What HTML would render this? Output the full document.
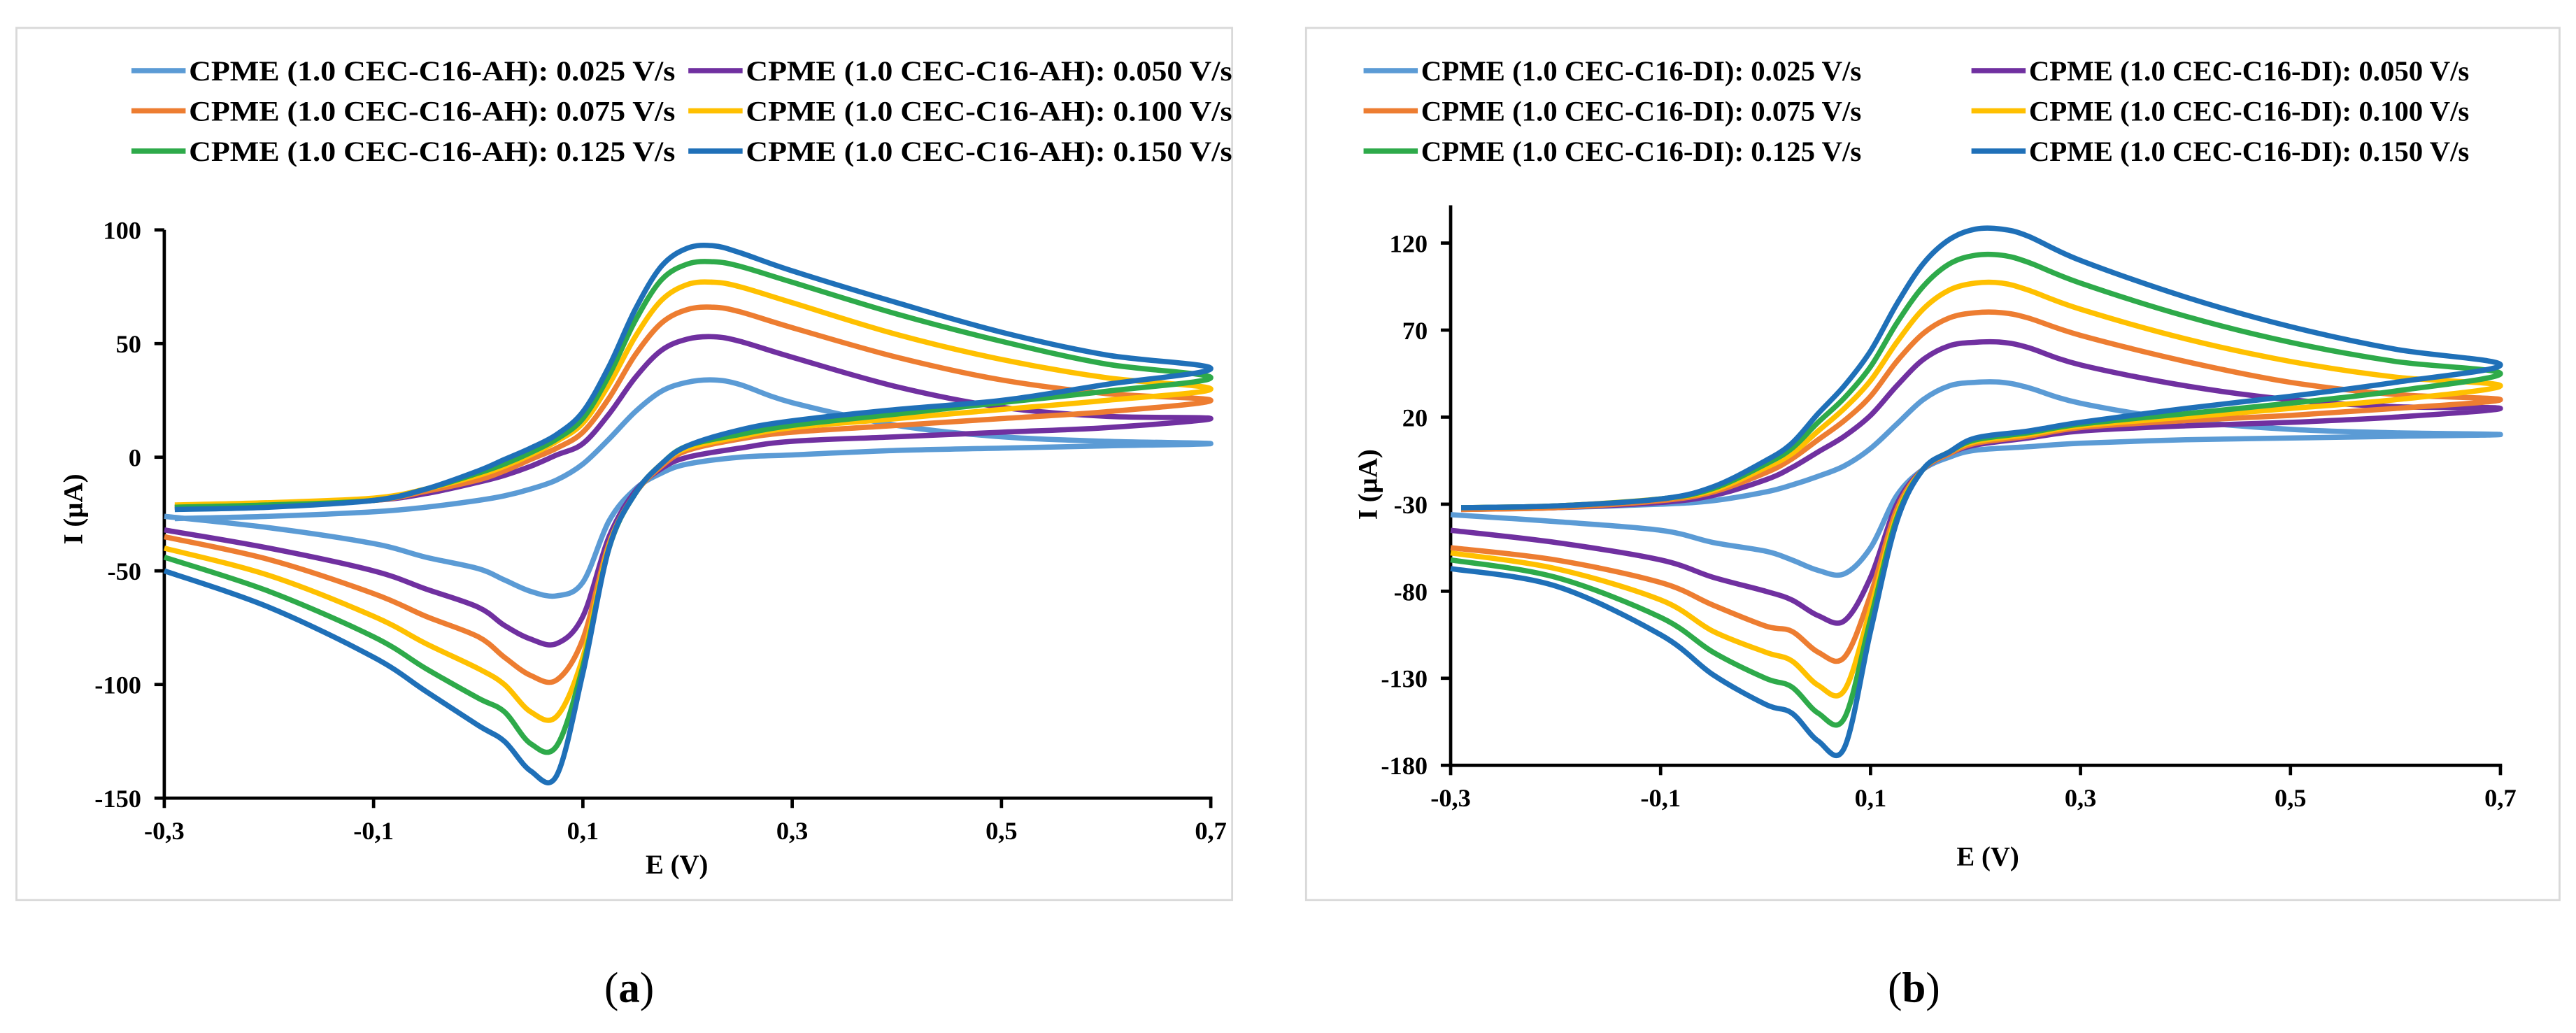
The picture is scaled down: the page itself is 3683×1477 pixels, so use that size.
<!DOCTYPE html>
<html><head><meta charset="utf-8"><style>
html,body{margin:0;padding:0;background:#fff}
svg{display:block}
text{font-family:"Liberation Serif",serif;font-weight:bold;fill:#000}
</style></head><body>
<svg id="fig" width="3683" height="1477" viewBox="0 0 1568 629" preserveAspectRatio="none" xmlns="http://www.w3.org/2000/svg">
<rect x="10" y="17" width="740" height="531" fill="#fff" stroke="#d9d9d9" stroke-width="1.2"/>
<rect x="795" y="17" width="763" height="531" fill="#fff" stroke="#d9d9d9" stroke-width="1.2"/>
<text x="383" y="610" font-size="26" text-anchor="middle" style="font-weight:normal">(<tspan font-weight="bold">a</tspan>)</text>
<text x="1165" y="610" font-size="26" text-anchor="middle" style="font-weight:normal">(<tspan font-weight="bold">b</tspan>)</text>
</svg>
<script>
const colors=["#5b9bd5","#7030a0","#ed7d31","#ffc000","#2eaa4a","#1f70b8"];
const rates=["0.025","0.050","0.075","0.100","0.125","0.150"];
const eFwd=[-0.29,-0.2,-0.1,-0.05,0,0.025,0.05,0.075,0.1,0.125,0.15,0.175,0.2,0.225,0.25,0.3,0.4,0.5,0.6,0.7];
const eRev=[0.7,0.6,0.5,0.4,0.3,0.25,0.2,0.175,0.15,0.125,0.1,0.075,0.05,0.025,0,-0.05,-0.1,-0.2,-0.3];
const xTicks=[-0.3,-0.1,0.1,0.3,0.5,0.7];
const yTicksA=[100,50,0,-50,-100,-150];
const yTicksB=[120,70,20,-30,-80,-130,-180];
const fwdA=[
[-27,-26,-24,-22,-19,-17,-14,-10,-3,8,20,29,33,34,32,24,14,9,7,6],
[-22,-21,-19,-16,-11,-8,-4,1,6,19,35,47,52,53,51,44,31,22,18,17],
[-22,-21,-19,-15,-10,-6,-1,4,11,26,45,59,65,66,64,57,44,34,28,25],
[-21,-20,-18,-14,-8,-4,1,7,15,32,53,69,76,77,75,68,54,43,35,30],
[-22,-21,-19,-14,-7,-3,2,8,17,36,60,78,85,86,84,77,63,51,41,35],
[-23,-22,-19,-14,-6,-1,4,10,20,40,65,84,92,93,90,82,68,55,45,39]];
const revA=[
[6,5,4,3,1,0,-3,-7,-14,-28,-55,-61,-59,-54,-49,-44,-38,-31,-26],
[17,13,11,9,7,4,0,-5,-15,-35,-70,-82,-80,-74,-66,-58,-50,-40,-32],
[25,20,17,14,11,8,3,-4,-16,-38,-80,-98,-96,-88,-79,-70,-60,-45,-35],
[30,25,21,17,13,9,4,-3,-16,-39,-88,-114,-112,-100,-93,-82,-70,-52,-40],
[35,29,24,19,14,10,5,-3,-16,-40,-92,-127,-126,-112,-106,-93,-79,-59,-44],
[39,32,25,21,16,12,5,-3,-16,-40,-95,-140,-138,-125,-118,-103,-88,-66,-50]];
const fwdB=[
[-33,-32,-30,-28,-23,-19,-14,-8,2,16,30,38,40,40,37,28,18,13,11,10],
[-33,-32,-29,-25,-16,-9,0,9,21,38,53,61,63,63,60,50,38,30,26,25],
[-33,-32,-28,-23,-12,-4,7,18,32,52,68,77,80,80,77,67,52,40,33,30],
[-32,-31,-27,-22,-9,-1,12,25,41,63,82,93,97,97,93,82,65,52,43,38],
[-32,-31,-27,-21,-7,2,17,31,49,74,95,108,113,113,109,97,78,63,52,45],
[-32,-31,-27,-20,-5,5,22,38,58,85,108,122,128,128,124,110,89,72,59,50]];
const revB=[
[10,9,8,7,5,3,1,-3,-10,-25,-55,-70,-68,-62,-57,-52,-45,-40,-36],
[25,20,17,15,12,8,4,-1,-10,-30,-72,-97,-94,-85,-80,-72,-62,-52,-45],
[30,25,21,18,14,9,5,-1,-10,-33,-82,-118,-115,-103,-100,-88,-75,-62,-55],
[38,30,25,20,15,10,6,0,-10,-36,-90,-137,-134,-120,-115,-103,-85,-67,-58],
[45,35,28,22,16,11,7,0,-10,-38,-96,-153,-150,-135,-130,-115,-95,-72,-62],
[50,40,32,25,17,12,8,0,-10,-40,-103,-170,-166,-150,-145,-128,-105,-77,-67]];

const svg=document.getElementById('fig');
const NS="http://www.w3.org/2000/svg";
function mk(tag,attrs,parent){const e=document.createElementNS(NS,tag);for(const k in attrs)e.setAttribute(k,attrs[k]);(parent||svg).appendChild(e);return e;}
function smooth(pts){let d="M"+pts[0][0].toFixed(2)+","+pts[0][1].toFixed(2);
 for(let i=0;i<pts.length-1;i++){const p0=pts[Math.max(0,i-1)],p1=pts[i],p2=pts[i+1],p3=pts[Math.min(pts.length-1,i+2)];
 const c1=[p1[0]+(p2[0]-p0[0])/6,p1[1]+(p2[1]-p0[1])/6],c2=[p2[0]-(p3[0]-p1[0])/6,p2[1]-(p3[1]-p1[1])/6];
 d+=" C"+c1.join(",")+" "+c2.join(",")+" "+p2.join(",");}return d;}

function panel(cfg){
 const g=mk('g',{});
 
 
 const X=v=>cfg.x0+(v-(-0.3))/(1.0)*(cfg.x1-cfg.x0);
 const Y=v=>cfg.yb+(v-cfg.ymin)/(cfg.ymax-cfg.ymin)*(cfg.yt-cfg.yb);
 for(let i=0;i<6;i++){
  const col=i%2,row=Math.floor(i/2);
  const lx=cfg.legX[col],ly=cfg.legY+row*24.5;
  const le=mk('g',{},g);
  
  
  mk('line',{x1:lx,y1:ly,x2:lx+33,y2:ly,stroke:colors[i],'stroke-width':3.2},le);
  const t=mk('text',{x:lx+35,y:ly+6,'font-size':17,textLength:cfg.legW,lengthAdjust:'spacingAndGlyphs'},le);
  t.textContent="CPME (1.0 "+cfg.label+"): "+rates[i]+" V/s";
 }
 const ya=mk('line',{x1:cfg.x0,y1:cfg.ytop,x2:cfg.x0,y2:cfg.yb,stroke:'#000','stroke-width':2},g);
 
 const xa=mk('line',{x1:cfg.x0-1,y1:cfg.yb,x2:cfg.x1+1,y2:cfg.yb,stroke:'#000','stroke-width':2},g);
 
 cfg.yTicks.forEach(v=>{const y=Y(v);
  mk('line',{x1:cfg.x0-6,y1:y,x2:cfg.x0,y2:y,stroke:'#000','stroke-width':2},g);
  const t=mk('text',{x:cfg.x0-14,y:y+5.5,'font-size':15.5,'text-anchor':'end'},g);
  
  t.textContent=String(v);});
 xTicks.forEach(v=>{const x=X(v);
  mk('line',{x1:x,y1:cfg.yb,x2:x,y2:cfg.yb+6,stroke:'#000','stroke-width':2},g);
  const t=mk('text',{x:x,y:cfg.yb+25,'font-size':15.5,'text-anchor':'middle'},g);
  
  t.textContent=v.toFixed(1).replace('.',',');});
 const xt=mk('text',{x:cfg.xTitle[0],y:cfg.xTitle[1],'font-size':16.5,'text-anchor':'middle'},g);
 xt.textContent="E (V)";
 const yt=mk('text',{x:0,y:0,'font-size':16.5,'text-anchor':'middle',transform:`translate(${cfg.yTitle[0]},${cfg.yTitle[1]}) rotate(-90)`},g);
 yt.textContent="I (µA)";
 for(let i=0;i<6;i++){
  const pts=eFwd.map((e,j)=>[X(e),Y(cfg.fwd[i][j])]).concat(eRev.slice(1).map((e,j)=>[X(e),Y(cfg.rev[i][j+1])]));
  const p=mk('path',{d:smooth(pts),fill:'none',stroke:colors[i],'stroke-width':3.2,'stroke-linejoin':'round'},g);
  
  
 }
}
panel({name:'panel-a',label:'CEC-C16-AH',x0:100,x1:737,yb:486,yt:140,ytop:140,ymin:-150,ymax:100,yTicks:yTicksA,fwd:fwdA,rev:revA,
 legX:[80,419],legY:43,legW:296,xTitle:[412,532],yTitle:[50,310]});
panel({name:'panel-b',label:'CEC-C16-DI',x0:883,x1:1522,yb:466,yt:148,ytop:125,ymin:-180,ymax:120,yTicks:yTicksB,fwd:fwdB,rev:revB,
 legX:[830,1200],legY:43,legW:268,xTitle:[1210,527],yTitle:[838,295]});
</script>
</body></html>
